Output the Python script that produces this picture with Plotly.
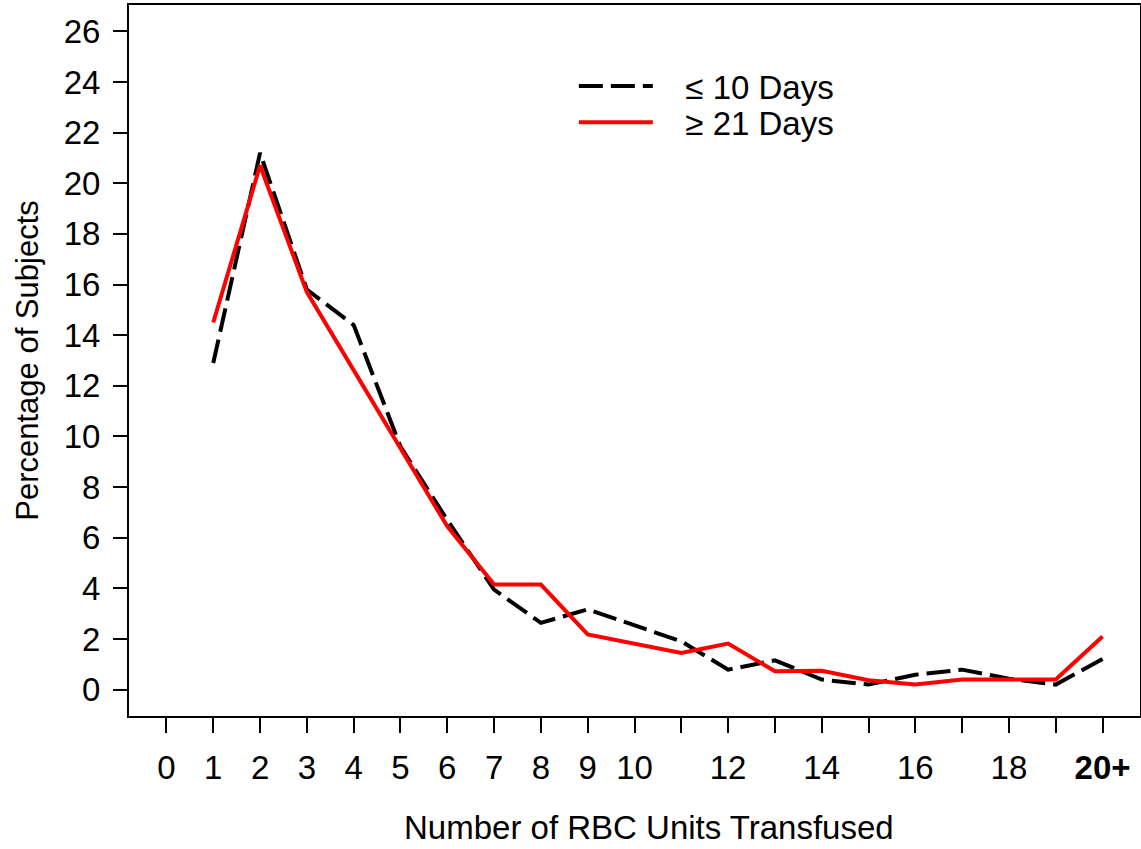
import plotly.graph_objects as go

units = list(range(1, 21))
le10_days = [12.9, 21.2, 15.8, 14.4, 9.6, 6.7, 3.95, 2.64, 3.17, 2.55, 1.91, 0.79, 1.16, 0.40, 0.20, 0.59, 0.79, 0.43, 0.20, 1.21]
ge21_days = [14.5, 20.7, 15.7, 12.6, 9.5, 6.45, 4.15, 4.15, 2.18, 1.80, 1.45, 1.82, 0.73, 0.75, 0.37, 0.20, 0.40, 0.40, 0.40, 2.10]

x_tickvals = list(range(0, 21))
x_ticktext = ["0", "1", "2", "3", "4", "5", "6", "7", "8", "9", "10", "", "12", "", "14", "", "16", "", "18", "", "<b>20+</b>"]
y_tickvals = list(range(0, 27, 2))
x_title = "Number of RBC Units Transfused"
y_title = "Percentage of Subjects"

FONT = "Liberation Sans, Arial, sans-serif"
FS = 33
NB = "\u00a0\u00a0\u00a0"

fig = go.Figure()
fig.add_trace(go.Scatter(x=units, y=le10_days, mode="lines", name=NB + "\u2264 10 Days",
                         line=dict(color="black", width=4, dash="24px,8px"), legend="legend"))
fig.add_trace(go.Scatter(x=units, y=ge21_days, mode="lines", name=NB + "\u2265 21 Days",
                         line=dict(color="#ff0000", width=4), legend="legend2"))

leg_common = dict(xanchor="left", yanchor="middle", bgcolor="rgba(0,0,0,0)",
                  font=dict(size=FS, family=FONT), itemwidth=74)

fig.update_layout(
    width=1141, height=849,
    margin=dict(l=129, r=1, t=5, b=133, pad=0),
    plot_bgcolor="white", paper_bgcolor="white",
    font=dict(family=FONT, size=FS, color="black"),
    showlegend=True,
    legend=dict(x=0.44, y=0.886, **leg_common),
    legend2=dict(x=0.44, y=0.835, **leg_common),
    xaxis=dict(range=[-0.8, 20.8], tickmode="array", tickvals=x_tickvals, ticktext=x_ticktext,
               ticks="outside", ticklen=15, tickwidth=1.5, tickcolor="black",
               showline=True, mirror=True, linecolor="black", linewidth=2,
               showgrid=False, zeroline=False, ticklabelstandoff=6, automargin=False,
               tickfont=dict(size=FS, family=FONT)),
    yaxis=dict(range=[-1.04, 27.04], tickmode="array", tickvals=y_tickvals,
               ticks="outside", ticklen=14, tickwidth=1.5, tickcolor="black",
               showline=True, mirror=True, linecolor="black", linewidth=2,
               showgrid=False, zeroline=False, ticklabelstandoff=6, automargin=False,
               tickfont=dict(size=FS, family=FONT),
               title=dict(text=y_title, font=dict(size=31, family=FONT), standoff=16)),
    annotations=[dict(text=x_title, xref="paper", yref="paper", x=0.514, y=-0.1575,
                      xanchor="center", yanchor="middle", showarrow=False,
                      font=dict(size=FS, family=FONT, color="black"))],
)

fig.write_html("out.html", config={"displayModeBar": False},
               post_script="document.body.style.margin='0px';document.body.style.padding='0px';")
